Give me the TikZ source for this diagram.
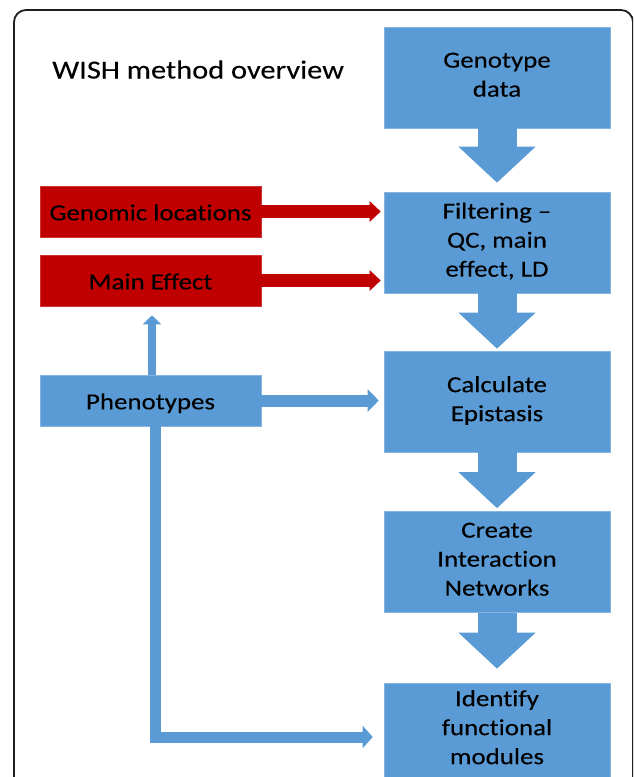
\documentclass[tikz,border=0pt]{standalone}
\usepackage{fontspec}
\setmainfont{Carlito}[FakeStretch=1.17, FakeBold=0.2, Ligatures={TeX,NoCommon}]
\usetikzlibrary{arrows.meta}
\definecolor{boxblue}{RGB}{91,155,213}
\definecolor{boxred}{RGB}{192,0,0}
\definecolor{framegray}{RGB}{30,30,30}
\newcommand{\boxstrut}{\rule[-5.7pt]{0pt}{29pt}}
\begin{document}
\begin{tikzpicture}[x=1pt,y=-1pt,
  boxtext/.style={inner sep=0pt, align=center, text=black,
    font=\fontsize{23}{29}\selectfont,
    execute at begin node=\boxstrut, execute at end node=\boxstrut},
  bluebox/.style={boxtext, fill=boxblue, draw=boxblue!75!white, line width=0.6pt,
    minimum width=226pt, minimum height=101pt},
  redbox/.style={boxtext, fill=boxred, draw=boxred!80!white, line width=0.6pt,
    minimum width=221pt, minimum height=51pt},
  phenbox/.style={boxtext, fill=boxblue, draw=boxblue!75!white, line width=0.6pt,
    minimum width=221pt, minimum height=51pt},
  bigarrow/.style={boxblue, line width=39pt, -{Triangle[length=36pt,width=75pt]}},
  redarrow/.style={boxred, line width=13pt, -{Triangle[length=11pt,width=20pt]}},
  phenarrow/.style={boxblue, line width=12pt, -{Triangle[length=11pt,width=22pt]}},
  uparrow/.style={boxblue, line width=8pt, -{Triangle[length=9pt,width=18pt]}},
  larrow/.style={boxblue, line width=11pt, line join=miter, -{Triangle[length=10pt,width=22pt]}}
]
\useasboundingbox (0,0) rectangle (633,777);
\begin{scope}
\clip (0,0) rectangle (633,777);
\draw[framegray, line width=1.8pt, rounded corners=12pt] (14,800) -- (14,10) -- (633,10) -- (633,800);
\end{scope}

\node[anchor=base west, inner sep=0pt, text=black, font=\fontsize{26}{31}\selectfont] (title) at (52,78.5) {WISH method overview};

\node[bluebox] (geno) at (497,77.5) {Genotype\\data};
\node[bluebox] (filt) at (497,242.5) {Filtering \textendash\\QC, main\\effect, LD};
\node[bluebox] (calc) at (497,401.5) {Calculate\\Epistasis};
\node[bluebox] (create) at (497,562) {Create\\Interaction\\Networks};
\node[bluebox, minimum height=94pt] (ident) at (497,730) {Identify\\functional\\modules};

\node[redbox] (gen) at (150.5,211.5) {Genomic locations};
\node[redbox] (main) at (150.5,280.5) {Main Effect};
\node[phenbox] (phen) at (150.5,400.5) {Phenotypes};

\draw[bigarrow, shorten >=9pt] (geno.south) -- (filt.north);
\draw[bigarrow, shorten >=2pt] (filt.south) -- (calc.north);
\draw[bigarrow, shorten >=3pt] (calc.south) -- (create.north);
\draw[bigarrow, shorten >=14pt] (create.south) -- (ident.north);

\draw[redarrow] (gen.east) -- ([xshift=-3pt]filt.west |- gen.east);
\draw[redarrow] (main.east) -- ([xshift=-3pt]filt.west |- main.east);
\draw[phenarrow] (phen.east) -- ([xshift=-5pt]calc.west |- phen.east);
\draw[uparrow] ([xshift=1.5pt]phen.north) -- ([xshift=1.5pt,yshift=-9pt]main.south);
\draw[larrow] ([xshift=5pt]phen.south) |- ([xshift=-11pt,yshift=-7pt]ident.west);
\end{tikzpicture}
\end{document}
